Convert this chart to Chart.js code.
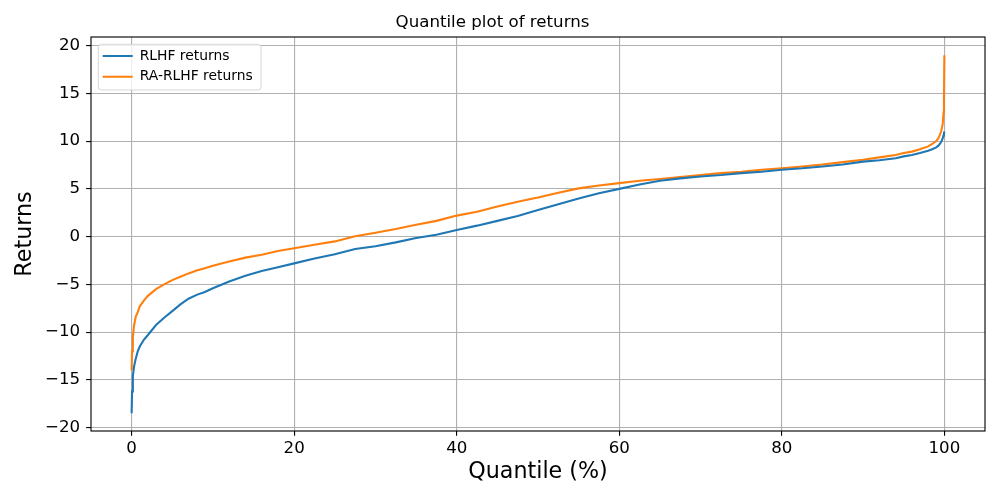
<!DOCTYPE html>
<html>
<head>
<meta charset="utf-8">
<script src="https://cdn.jsdelivr.net/npm/chart.js@4.4.1/dist/chart.umd.min.js"></script>
<style>
  html, body { margin: 0; padding: 0; background: #ffffff; }
  #wrap { width: 1000px; height: 500px; }
</style>
</head>
<body>
<div id="wrap"><canvas id="c" width="1000" height="500"></canvas></div>
<script>
// ---- data ----
const quantiles = [0, 0.05, 0.15, 0.3, 0.5, 0.75, 1, 1.5, 2, 3, 4, 5, 6, 7, 8, 9, 10, 12, 14, 16, 18, 20,
  22.5, 25, 27.5, 30, 32.5, 35, 37.5, 40, 42.5, 45, 47.5, 50, 52.5, 55, 57.5, 60, 62.5, 65, 67.5, 70,
  72.5, 75, 77.5, 80, 82.5, 85, 87.5, 90, 92, 94, 95, 96, 97, 98, 98.5, 99, 99.3, 99.6, 99.8, 99.9, 99.95, 100];

const rlhfReturns = [-18.5, -16.2, -14.6, -13.6, -12.8, -12.0, -11.5, -10.8, -10.3, -9.25, -8.5, -7.8, -7.1, -6.5, -6.1, -5.8, -5.4, -4.7, -4.1, -3.6, -3.2, -2.8,
  -2.3, -1.85, -1.3, -1.0, -0.6, -0.15, 0.2, 0.7, 1.15, 1.65, 2.15, 2.8, 3.4, 4.0, 4.55, 5.0, 5.45, 5.85, 6.1, 6.3,
  6.45, 6.65, 6.8, 7.0, 7.15, 7.35, 7.55, 7.85, 8.0, 8.2, 8.4, 8.55, 8.75, 9.0, 9.15, 9.35, 9.55, 9.9, 10.3, 10.6, 10.8, 11.0];

const raRlhfReturns = [-14.0, -12.0, -10.5, -9.3, -8.4, -7.9, -7.3, -6.7, -6.2, -5.5, -5.0, -4.55, -4.2, -3.85, -3.55, -3.3, -3.05, -2.6, -2.2, -1.9, -1.5, -1.22,
  -0.85, -0.5, 0.05, 0.4, 0.8, 1.25, 1.65, 2.2, 2.6, 3.15, 3.65, 4.1, 4.6, 5.05, 5.35, 5.6, 5.85, 6.04, 6.25, 6.46,
  6.65, 6.8, 7.0, 7.16, 7.35, 7.55, 7.8, 8.05, 8.3, 8.55, 8.75, 8.9, 9.15, 9.45, 9.7, 10.0, 10.35, 11.0, 11.8, 13.0, 14.5, 19.0];

const seriesLabels = ['RLHF returns', 'RA-RLHF returns'];
const xTickValues = [0, 20, 40, 60, 80, 100];
const yTickValues = [-20, -15, -10, -5, 0, 5, 10, 15, 20];

// ---- chart ----
const FONT = "'DejaVu Sans', 'Liberation Sans', sans-serif";
const PX = 100 / 72;           // matplotlib points -> pixels at 100 dpi
const LW = 0.8 * PX;

const framePlugin = {
  id: 'frame',
  afterInit(chart) {
    const legend = chart.legend;
    if (!legend) return;
    const orig = legend.draw.bind(legend);
    legend.draw = function (area) {
      const ctx = chart.ctx;
      const ca = chart.chartArea;
      // legend frame (matplotlib-style rounded box)
      const x = ca.left + 7.3, y = ca.top + 7.3, w = 162.7, h = 45.7, r = 3;
      ctx.save();
      ctx.beginPath();
      ctx.moveTo(x + r, y);
      ctx.lineTo(x + w - r, y);
      ctx.quadraticCurveTo(x + w, y, x + w, y + r);
      ctx.lineTo(x + w, y + h - r);
      ctx.quadraticCurveTo(x + w, y + h, x + w - r, y + h);
      ctx.lineTo(x + r, y + h);
      ctx.quadraticCurveTo(x, y + h, x, y + h - r);
      ctx.lineTo(x, y + r);
      ctx.quadraticCurveTo(x, y, x + r, y);
      ctx.closePath();
      ctx.fillStyle = 'rgba(255,255,255,0.8)';
      ctx.fill();
      ctx.lineWidth = 1;
      ctx.strokeStyle = 'rgba(204,204,204,0.8)';
      ctx.stroke();
      ctx.translate(ca.left - this.left + 4.9, ca.top - this.top + 5.25);
      orig(area);
      ctx.restore();
    };
  },
  afterDraw(chart) {
    const ctx = chart.ctx;
    const ca = chart.chartArea;
    ctx.save();
    ctx.strokeStyle = '#000000';
    ctx.lineWidth = LW;
    ctx.strokeRect(ca.left, ca.top, ca.right - ca.left, ca.bottom - ca.top);
    ctx.restore();
  }
};

const toPoints = (ys) => quantiles.map((q, i) => ({ x: q, y: ys[i] }));

new Chart(document.getElementById('c'), {
  type: 'line',
  data: {
    datasets: [
      {
        label: seriesLabels[0],
        data: toPoints(rlhfReturns),
        borderColor: '#1f77b4',
        backgroundColor: '#1f77b4',
        borderWidth: 1.5 * PX,
        pointRadius: 0,
        pointStyle: 'line',
        tension: 0
      },
      {
        label: seriesLabels[1],
        data: toPoints(raRlhfReturns),
        borderColor: '#ff7f0e',
        backgroundColor: '#ff7f0e',
        borderWidth: 1.5 * PX,
        pointRadius: 0,
        pointStyle: 'line',
        tension: 0
      }
    ]
  },
  options: {
    responsive: false,
    animation: false,
    events: [],
    layout: { padding: { left: 0, right: 15, top: 0, bottom: 0 } },
    plugins: {
      title: {
        display: true,
        text: 'Quantile plot of returns',
        color: '#000000',
        font: { family: FONT, size: 12 * PX, weight: 'normal', lineHeight: 1.2 },
        padding: { top: 12.5, bottom: 4.5 }
      },
      legend: {
        display: true,
        position: 'chartArea',
        align: 'start',
        labels: {
          usePointStyle: true,
          pointStyleWidth: 30,
          padding: 6.8,
          color: '#000000',
          font: { family: FONT, size: 10 * PX }
        }
      },
      tooltip: { enabled: false }
    },
    scales: {
      x: {
        type: 'linear',
        min: -5,
        max: 105,
        afterBuildTicks: (axis) => { axis.ticks = xTickValues.map(v => ({ value: v })); },
        afterFit: (axis) => { axis.height = 69; },
        ticks: {
          color: '#000000',
          font: { family: FONT, size: 12 * PX, lineHeight: 1.2 },
          padding: 3.2,
          maxRotation: 0,
          callback: (v) => String(v)
        },
        grid: {
          color: '#b0b0b0',
          lineWidth: LW,
          tickColor: '#000000',
          tickWidth: LW,
          tickLength: 3.5 * PX,
          z: -1
        },
        border: { display: false },
        title: {
          display: true,
          text: 'Quantile (%)',
          color: '#000000',
          font: { family: FONT, size: 16 * PX, lineHeight: 1.2 },
          padding: { top: 0, bottom: 14.4 }
        }
      },
      y: {
        type: 'linear',
        min: -20.35,
        max: 20.9,
        afterBuildTicks: (axis) => { axis.ticks = yTickValues.map(v => ({ value: v })); },
        afterFit: (axis) => { axis.width = 91; },
        ticks: {
          color: '#000000',
          font: { family: FONT, size: 12 * PX, lineHeight: 1.2 },
          padding: 6,
          callback: (v) => (v < 0 ? '\u2212' + Math.abs(v) : String(v))
        },
        grid: {
          color: '#b0b0b0',
          lineWidth: LW,
          tickColor: '#000000',
          tickWidth: LW,
          tickLength: 3.5 * PX,
          z: -1
        },
        border: { display: false },
        title: {
          display: true,
          text: 'Returns',
          color: '#000000',
          font: { family: FONT, size: 16 * PX, lineHeight: 1.2 },
          padding: { top: 11.7, bottom: 0 }
        }
      }
    }
  },
  plugins: [framePlugin]
});
</script>
</body>
</html>
